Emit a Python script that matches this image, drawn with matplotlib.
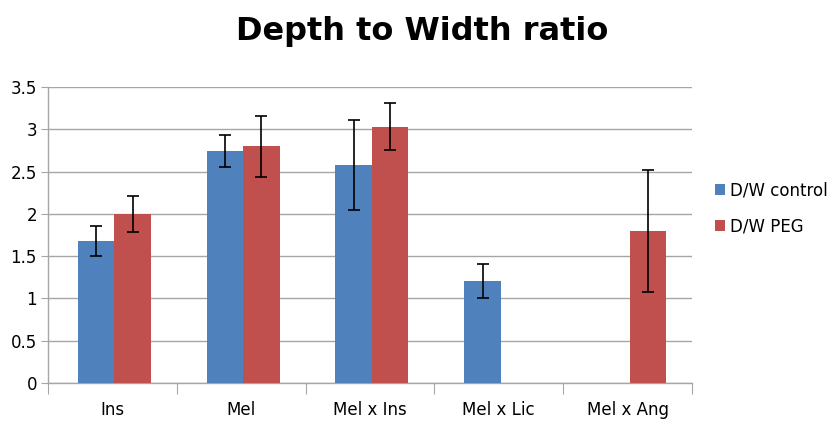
import numpy as np
import matplotlib.pyplot as plt

categories = ['Ins', 'Mel', 'Mel x Ins', 'Mel x Lic', 'Mel x Ang']
dw_control = [1.68, 2.74, 2.58, 1.21, np.nan]
dw_control_err = [0.18, 0.19, 0.53, 0.20, np.nan]
dw_peg = [2.00, 2.80, 3.03, np.nan, 1.80]
dw_peg_err = [0.21, 0.36, 0.28, np.nan, 0.72]

fig = plt.figure(figsize=(8.34, 4.24), dpi=100)
ax = fig.add_axes([48 / 834, 1 - 383 / 424, 644 / 834, 296 / 424])

x = np.arange(len(categories))
w = 0.283
err_kw = dict(ecolor='black', elinewidth=1.2, capsize=4, capthick=1.2)
ax.bar(x - w / 2 + 0.015, dw_control, w, yerr=dw_control_err, color='#4F81BD',
       label='D/W control', error_kw=err_kw, zorder=3)
ax.bar(x + w / 2 + 0.015, dw_peg, w, yerr=dw_peg_err, color='#C0504D',
       label='D/W PEG', error_kw=err_kw, zorder=3)

ax.set_xlim(-0.5, len(categories) - 0.5)
ax.set_ylim(0, 3.5)
ax.set_yticks(np.arange(0, 3.51, 0.5))
ax.set_yticklabels(['0', '0.5', '1', '1.5', '2', '2.5', '3', '3.5'])
ax.yaxis.grid(True, color='#A6A6A6', linewidth=1, zorder=0)
ax.set_axisbelow(True)

# category ticks at the boundaries, labels in the middle
ax.set_xticks(np.arange(-0.5, len(categories)), minor=False)
ax.set_xticklabels([])
ax.set_xticks(x, minor=True)
ax.set_xticklabels(categories, minor=True)
ax.tick_params(axis='x', which='major', length=8, color='#A6A6A6', direction='out')
ax.tick_params(axis='x', which='minor', length=0, pad=13, labelsize=12)
ax.tick_params(axis='y', length=5, color='#A6A6A6', labelsize=12, pad=3)

for s in ['top', 'right']:
    ax.spines[s].set_visible(False)
for s in ['left', 'bottom']:
    ax.spines[s].set_color('#A6A6A6')
    ax.spines[s].set_linewidth(1)

fig.suptitle('Depth to Width ratio', fontsize=23, fontweight='bold',
             x=422 / 834, y=0.962)

leg = ax.legend(loc='center left', bbox_to_anchor=(1.035, 0.59), frameon=False,
                fontsize=12, handlelength=0.6, handleheight=0.6, handletextpad=0.35,
                labelspacing=1.05, borderaxespad=0, borderpad=0)

fig.savefig('out.png', dpi=100)
